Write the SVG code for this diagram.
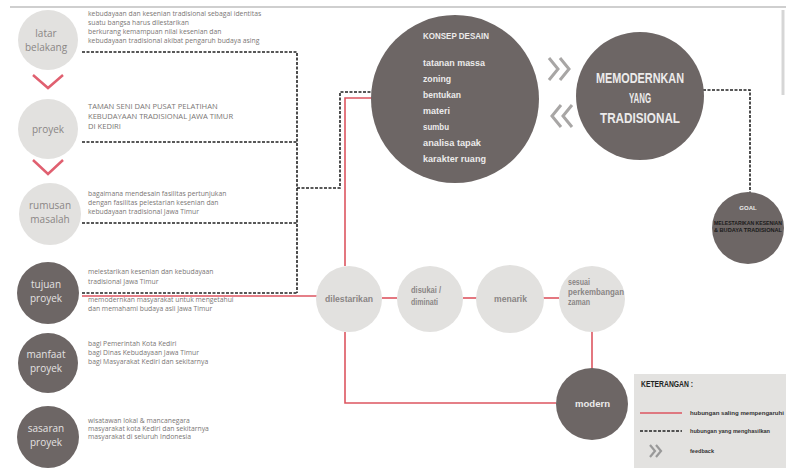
<svg xmlns="http://www.w3.org/2000/svg" width="786" height="468" viewBox="0 0 786 468">
<defs>
<style>
.lc{fill:#e2e1df}
.dc{fill:#6d6665}
.lbl{font-family:"Open Sans","Liberation Sans",sans-serif;font-size:10px;fill:#8a8685;text-anchor:middle}
.lbld{font-family:"Open Sans","Liberation Sans",sans-serif;font-size:10px;fill:#e4e2e2;text-anchor:middle}
.desc{font-family:"Open Sans","Liberation Sans",sans-serif;font-size:6.8px;fill:#7a7675}
.descu{font-family:"Open Sans","Liberation Sans",sans-serif;font-size:7.6px;fill:#7a7675}
.cond{font-family:"Liberation Sans","DejaVu Sans",sans-serif;font-weight:bold}
.mid{font-size:9px;fill:#8a8685}
.kon{font-size:9.5px;fill:#ecebeb}
.dash{fill:none;stroke:#222;stroke-width:1.6;stroke-dasharray:3 1.5}
.red{fill:none;stroke:#dd5560;stroke-width:1.6}
.chev{fill:none;stroke:#e06070;stroke-width:2.5}
.gchev{fill:none;stroke:#a8a6a5;stroke-width:3}
</style>
</defs>
<rect width="786" height="468" fill="#ffffff"/>
<line x1="10" y1="7" x2="786" y2="7" stroke="#cfcfcf" stroke-width="2"/>
<line x1="783" y1="10" x2="783" y2="95" stroke="#d6d6d6" stroke-width="3"/>

<g id="connectors">
<polyline class="dash" points="82,52 297,52 297,293"/>
<line class="dash" x1="82" y1="142" x2="297" y2="142"/>
<line class="dash" x1="82" y1="223" x2="297" y2="223"/>
<line class="dash" x1="82" y1="293" x2="297" y2="293"/>
<polyline class="dash" points="297,188 340,188 340,92 374,92"/>
<line class="red" x1="82" y1="296" x2="317" y2="296"/>
<polyline class="red" points="377,98 345,98 345,266"/>
<polyline class="red" points="345,332 345,403 556,403"/>
<line class="red" x1="382" y1="298" x2="397" y2="298"/>
<line class="red" x1="463" y1="298" x2="477" y2="298"/>
<line class="red" x1="543" y1="298" x2="559" y2="298"/>
<line class="red" x1="592" y1="331" x2="592" y2="369"/>
<polyline class="dash" points="703,90 750,90 750,193"/>
<polyline class="chev" points="33,75 48,88 63,75"/>
<polyline class="chev" points="33,160 48,174 63,160"/>
<polyline class="gchev" points="549,58 558,69 549,80"/>
<polyline class="gchev" points="560,58 569,69 560,80"/>
<polyline class="gchev" points="561,105 552,116 561,127"/>
<polyline class="gchev" points="572,105 563,116 572,127"/>
</g>

<g id="latar">
<circle class="lc" cx="48" cy="40" r="30"/>
<text class="lbl" x="46" y="37">latar</text>
<text class="lbl" x="46" y="51">belakang</text>
<text class="desc" x="88" y="16">kebudayaan dan kesenian tradisional sebagai identitas</text>
<text class="desc" x="88" y="25">suatu bangsa harus dilestarikan</text>
<text class="desc" x="88" y="34">berkurang kemampuan nilai kesenian dan</text>
<text class="desc" x="88" y="43">kebudayaan tradisional akibat pengaruh budaya asing</text>
</g>

<g id="proyek">
<circle class="lc" cx="48" cy="129" r="30"/>
<text class="lbl" x="48" y="133">proyek</text>
<text class="descu" x="88" y="109">TAMAN SENI DAN PUSAT PELATIHAN</text>
<text class="descu" x="88" y="119">KEBUDAYAAN TRADISIONAL JAWA TIMUR</text>
<text class="descu" x="88" y="129">DI KEDIRI</text>
</g>

<g id="rumusan">
<circle class="lc" cx="50" cy="214" r="31"/>
<text class="lbl" x="50" y="209">rumusan</text>
<text class="lbl" x="50" y="223">masalah</text>
<text class="desc" x="88" y="196">bagaimana mendesain fasilitas pertunjukan</text>
<text class="desc" x="88" y="205">dengan fasilitas pelestarian kesenian dan</text>
<text class="desc" x="88" y="214">kebudayaan tradisional Jawa Timur</text>
</g>

<g id="tujuan">
<circle class="dc" cx="48" cy="293" r="31"/>
<text class="lbld" x="46" y="288">tujuan</text>
<text class="lbld" x="46" y="302">proyek</text>
<text class="desc" x="88" y="274">melestarikan kesenian dan kebudayaan</text>
<text class="desc" x="88" y="284">tradisional Jawa Timur</text>
<text class="desc" x="88" y="302">memodernkan masyarakat untuk mengetahui</text>
<text class="desc" x="88" y="311">dan memahami budaya asli Jawa Timur</text>
</g>

<g id="manfaat">
<circle class="dc" cx="48" cy="363" r="30"/>
<text class="lbld" x="46" y="358">manfaat</text>
<text class="lbld" x="46" y="372">proyek</text>
<text class="desc" x="88" y="346">bagi Pemerintah Kota Kediri</text>
<text class="desc" x="88" y="355">bagi Dinas Kebudayaan Jawa Timur</text>
<text class="desc" x="88" y="364">bagi Masyarakat Kediri dan sekitarnya</text>
</g>

<g id="sasaran">
<circle class="dc" cx="48" cy="437" r="31"/>
<text class="lbld" x="46" y="432">sasaran</text>
<text class="lbld" x="46" y="446">proyek</text>
<text class="desc" x="88" y="423">wisatawan lokal &amp; mancanegara</text>
<text class="desc" x="88" y="431">masyarakat kota Kediri dan sekitarnya</text>
<text class="desc" x="88" y="439">masyarakat di seluruh Indonesia</text>
</g>

<g id="konsep">
<circle class="dc" cx="455" cy="99" r="84"/>
<text class="cond kon" x="423" y="39" textLength="66" lengthAdjust="spacingAndGlyphs">KONSEP DESAIN</text>
<text class="cond kon" x="423" y="66" textLength="62" lengthAdjust="spacingAndGlyphs">tatanan massa</text>
<text class="cond kon" x="423" y="82" textLength="28" lengthAdjust="spacingAndGlyphs">zoning</text>
<text class="cond kon" x="423" y="98" textLength="38" lengthAdjust="spacingAndGlyphs">bentukan</text>
<text class="cond kon" x="423" y="114" textLength="27" lengthAdjust="spacingAndGlyphs">materi</text>
<text class="cond kon" x="423" y="130" textLength="26" lengthAdjust="spacingAndGlyphs">sumbu</text>
<text class="cond kon" x="423" y="146" textLength="58" lengthAdjust="spacingAndGlyphs">analisa tapak</text>
<text class="cond kon" x="423" y="162" textLength="63" lengthAdjust="spacingAndGlyphs">karakter ruang</text>
</g>

<g id="memodernkan">
<circle class="dc" cx="640" cy="96" r="64"/>
<text class="cond" x="596" y="83" font-size="15" fill="#ecebeb" textLength="88" lengthAdjust="spacingAndGlyphs">MEMODERNKAN</text>
<text class="cond" x="629" y="103" font-size="15" fill="#ecebeb" textLength="22" lengthAdjust="spacingAndGlyphs">YANG</text>
<text class="cond" x="600" y="123" font-size="15" fill="#ecebeb" textLength="80" lengthAdjust="spacingAndGlyphs">TRADISIONAL</text>
</g>

<g id="goal">
<circle class="dc" cx="748" cy="228" r="36"/>
<text class="cond" x="748" y="210" font-size="6" fill="#ecebeb" text-anchor="middle">GOAL</text>
<text class="cond" x="714" y="225" font-size="5.2" fill="#1a1a1a" textLength="68" lengthAdjust="spacingAndGlyphs">MELESTARIKAN KESENIAN</text>
<text class="cond" x="714" y="232" font-size="5.2" fill="#1a1a1a" textLength="68" lengthAdjust="spacingAndGlyphs">&amp; BUDAYA TRADISIONAL</text>
</g>

<g id="dilestarikan">
<circle class="lc" cx="349" cy="299" r="33"/>
<text class="cond mid" x="325" y="302" textLength="48" lengthAdjust="spacingAndGlyphs">dilestarikan</text>
</g>
<g id="disukai">
<circle class="lc" cx="430" cy="299" r="33"/>
<text class="cond mid" x="411" y="293" textLength="30" lengthAdjust="spacingAndGlyphs">disukai /</text>
<text class="cond mid" x="411" y="305" textLength="27" lengthAdjust="spacingAndGlyphs">diminati</text>
</g>
<g id="menarik">
<circle class="lc" cx="510" cy="299" r="34"/>
<text class="cond mid" x="494" y="302" textLength="33" lengthAdjust="spacingAndGlyphs">menarik</text>
</g>
<g id="sesuai">
<circle class="lc" cx="592" cy="299" r="33"/>
<text class="cond mid" x="568" y="285" textLength="22" lengthAdjust="spacingAndGlyphs">sesuai</text>
<text class="cond mid" x="568" y="295" textLength="56" lengthAdjust="spacingAndGlyphs">perkembangan</text>
<text class="cond mid" x="568" y="305" textLength="22" lengthAdjust="spacingAndGlyphs">zaman</text>
</g>
<g id="modern">
<circle class="dc" cx="592" cy="404" r="36"/>
<text class="cond" x="575" y="407" font-size="9.5" fill="#ecebeb" textLength="35" lengthAdjust="spacingAndGlyphs">modern</text>
</g>

<g id="legend">
<rect x="634" y="374" width="152" height="94" fill="#e3e2e0"/>
<text class="cond" x="641" y="387" font-size="9" fill="#222" textLength="52" lengthAdjust="spacingAndGlyphs">KETERANGAN :</text>
<line x1="640" y1="413" x2="682" y2="413" stroke="#dd5560" stroke-width="1.6"/>
<text class="cond" x="690" y="415" font-size="6" fill="#333" textLength="94" lengthAdjust="spacingAndGlyphs">hubungan saling mempengaruhi</text>
<line class="dash" x1="640" y1="431" x2="682" y2="431"/>
<text class="cond" x="690" y="433" font-size="6" fill="#333" textLength="80" lengthAdjust="spacingAndGlyphs">hubungan yang menghasilkan</text>
<polyline points="650,445 655,451 650,457" fill="none" stroke="#999" stroke-width="2.2"/>
<polyline points="656,445 661,451 656,457" fill="none" stroke="#999" stroke-width="2.2"/>
<text class="cond" x="690" y="453" font-size="6" fill="#333" textLength="24" lengthAdjust="spacingAndGlyphs">feedback</text>
</g>
</svg>
